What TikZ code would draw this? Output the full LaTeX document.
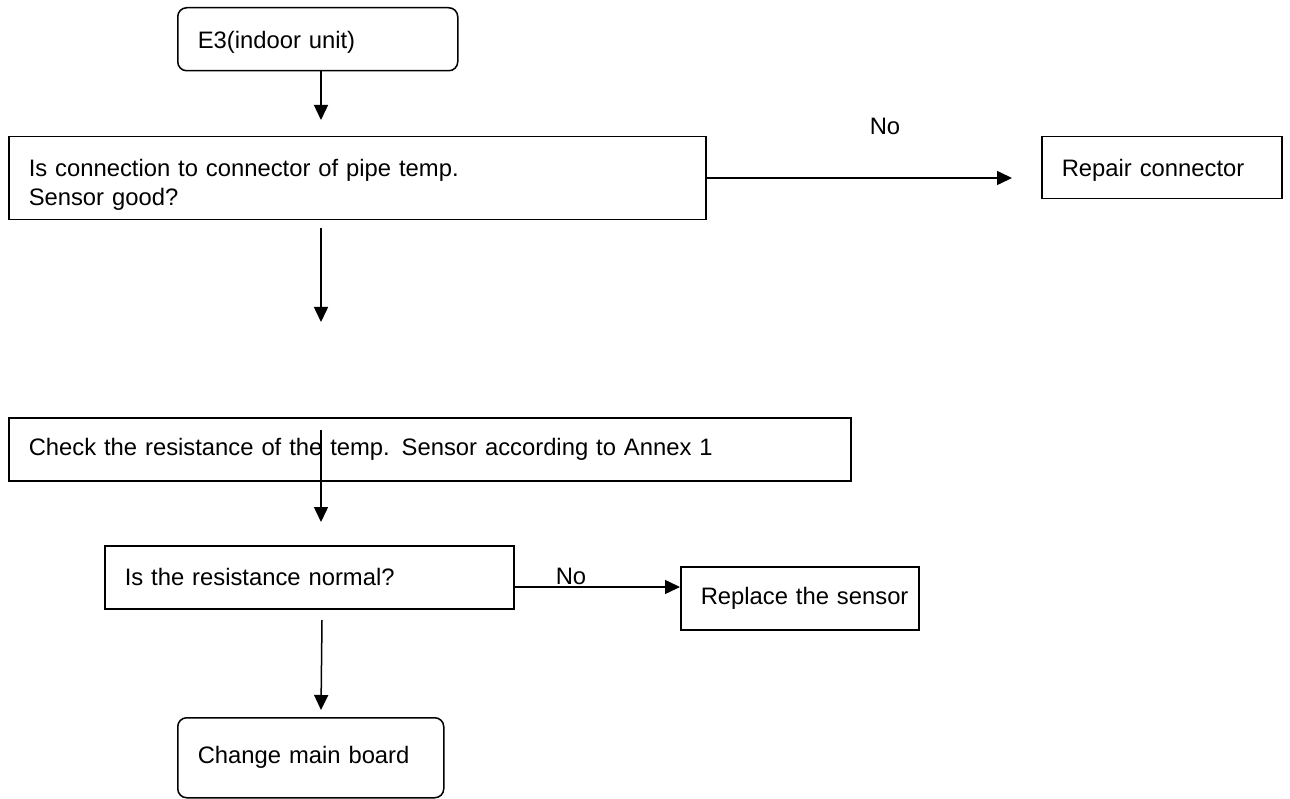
\documentclass[tikz,border=0pt]{standalone}
\usepackage{fontspec}
\setmainfont{Liberation Sans}
\usetikzlibrary{arrows.meta}
\newcommand{\fsz}{\fontsize{23.8}{29}\selectfont}
\tikzset{
  box/.style={draw, line width=1.5pt, anchor=north west, align=left,
    inner xsep=20pt, inner ysep=0pt, font=\fsz},
  rbox/.style={box, rounded corners=9pt},
  arr/.style={line width=1.5pt, -{Triangle[length=15pt,width=14pt]}},
  lbl/.style={font=\fsz, inner sep=0pt}
}
\begin{document}
\begin{tikzpicture}[x=1pt,y=-1pt]
\useasboundingbox (0,0) rectangle (1290,799);
% boxes
\node[rbox, text width=240pt, minimum height=63pt] (e3) at (177,7) {\rule{0pt}{24pt}E3(indoor unit)};
\node[box, text width=657pt, minimum height=83pt] (q1) at (8,136) {\rule{0pt}{31pt}Is connection to connector of pipe temp.\\Sensor good?};
\node[box, text width=200pt, minimum height=62pt] (repair) at (1041,136) {\rule{0pt}{22pt}Repair connector};
\node[box, text width=802pt, minimum height=63pt] (check) at (8,417) {Check the resistance of the temp. Sensor according to Annex 1};
\node[box, text width=369pt, minimum height=63pt] (q2) at (104,545) {Is the resistance normal?};
\node[box, text width=198pt, minimum height=63pt] (replace) at (680,566) {\mbox{Replace the sensor}};
\node[rbox, text width=226pt, minimum height=80pt] (change) at (177,717) {Change main board\rule[-4pt]{0pt}{0pt}};
% connector end points
\coordinate (c1) at (321,120);
\coordinate (c2) at (1012,178);
\coordinate (c3s) at (321,228);
\coordinate (c3e) at (321,322);
\coordinate (c4s) at (321,430);
\coordinate (c4e) at (321,522);
\coordinate (c5s) at (513,587);
\coordinate (c6s) at (322,620);
\coordinate (c6e) at (321,710);
% connectors
\draw[arr] (e3.south -| c1) -- (c1);
\draw[arr] (q1.east |- c2) -- (c2);
\node[lbl] (no1) at (885,126) {No};
\draw[arr] (c3s) -- (c3e);
\draw[arr] (c4s) -- (c4e);
\draw[arr] (c5s) -- (replace.west |- c5s);
\node[lbl] (no2) at (571,576) {No};
\draw[arr] (c6s) -- (c6e);
\end{tikzpicture}
\end{document}
